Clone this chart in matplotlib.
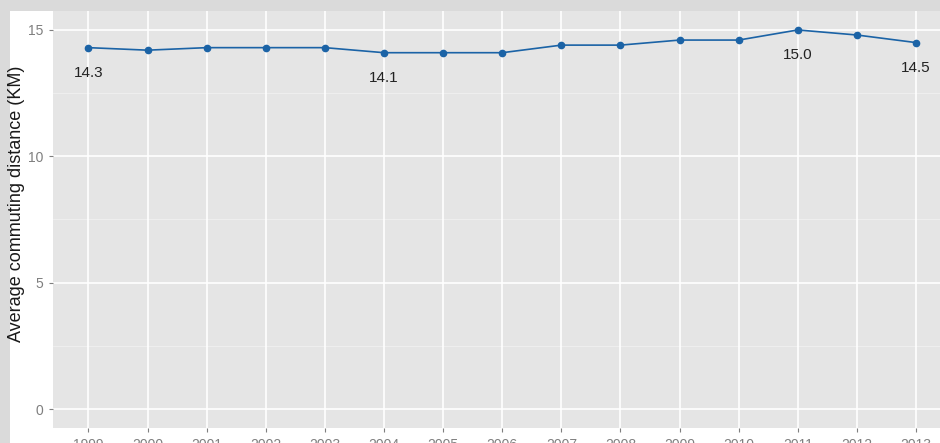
import matplotlib

matplotlib.use("Agg")

import matplotlib.pyplot as plt
from matplotlib.patches import Rectangle

years = ["1999", "2000", "2001", "2002", "2003", "2004", "2005", "2006",
         "2007", "2008", "2009", "2010", "2011", "2012", "2013"]
distance = [14.3, 14.2, 14.3, 14.3, 14.3, 14.1, 14.1, 14.1,
            14.4, 14.4, 14.6, 14.6, 15.0, 14.8, 14.5]
labelled_years = ["1999", "2004", "2011", "2013"]
y_ticks = [0, 5, 10, 15]
y_minor = [2.5, 7.5, 12.5]

W, H = 940, 443

plt.rcParams["font.family"] = ["Liberation Sans", "DejaVu Sans"]

fig = plt.figure(figsize=(W / 100, H / 100), dpi=100)
fig.patch.set_facecolor("#dadada")
fig.patches.append(Rectangle((10 / W, 0), 1, 1 - 11 / H, transform=fig.transFigure,
                             facecolor="white", edgecolor="none", zorder=-5))

left, right = 53 / W, 951.5 / W
top, bottom = 1 - 11 / H, 1 - 428 / H
ax = fig.add_axes([left, bottom, right - left, top - bottom])
ax.set_zorder(1)
ax.set_facecolor("#e5e5e5")
for s in ax.spines.values():
    s.set_visible(False)

x = list(range(len(years)))
ax.set_xlim(-0.6, len(years) - 1 + 0.6)
ax.set_ylim(-0.75, 15.75)

for v in y_minor:
    ax.axhline(v, color="#f0f0f0", lw=0.6, zorder=1)
for v in y_ticks:
    ax.axhline(v, color="white", lw=1.2, zorder=1)
for xi in x:
    ax.axvline(xi, color="white", lw=1.2, zorder=1)

ax.plot(x, distance, color="#1b63a6", lw=1.2, marker="o", ms=4.5, zorder=3)
for xi, yr, d in zip(x, years, distance):
    if yr in labelled_years:
        ax.text(xi, d - 1, f"{d:.1f}", ha="center", va="center",
                fontsize=11, color="#222222", zorder=4)

ax.set_xticks(x)
ax.set_xticklabels(years)
ax.set_yticks(y_ticks)
ax.tick_params(axis="both", colors="#7f7f7f", labelcolor="#7f7f7f",
               length=2.9, width=0.8, labelsize=10, pad=4)
ax.set_ylabel("Average commuting distance (KM)", fontsize=13, color="#1a1a1a")
ax.yaxis.set_label_coords(0, 0.5)
ax.yaxis.label.set_transform(fig.transFigure)
ax.yaxis.label.set_position((25 / W, (443 - 204) / H))

fig.savefig("out.png", dpi=100, facecolor=fig.get_facecolor())
